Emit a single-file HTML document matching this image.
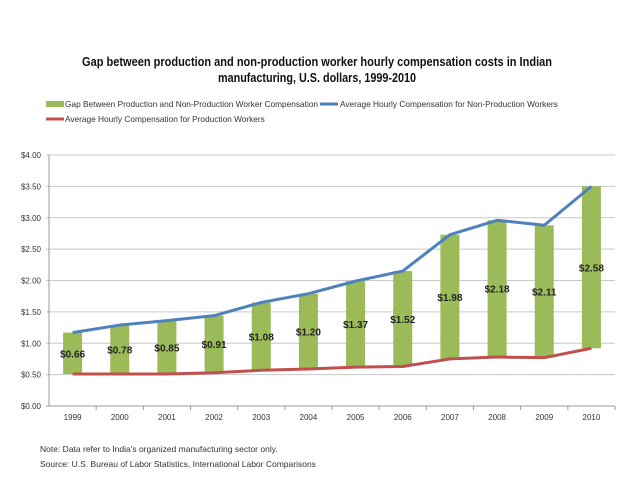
<!DOCTYPE html>
<html><head><meta charset="utf-8"><style>
body{margin:0;background:#fff;width:638px;height:479px;overflow:hidden;font-family:"Liberation Sans",sans-serif}
</style></head><body>
<svg width="638" height="479" id="svg" font-family="Liberation Sans, sans-serif">
<text x="317" y="66" text-anchor="middle" font-size="12.5" font-weight="bold" fill="#111" textLength="470" lengthAdjust="spacingAndGlyphs">Gap between production and non-production worker hourly compensation costs in Indian</text>
<text x="317" y="82" text-anchor="middle" font-size="12.5" font-weight="bold" fill="#111" textLength="198" lengthAdjust="spacingAndGlyphs">manufacturing, U.S. dollars, 1999-2010</text>
<g font-size="8.3" fill="#333">
<rect x="46" y="101" width="18" height="6" fill="#9bbb59"/>
<text x="65" y="107">Gap Between Production and Non-Production Worker Compensation</text>
<rect x="320" y="102.5" width="18" height="3" fill="#4f81bd"/>
<text x="340" y="107">Average Hourly Compensation for Non-Production Workers</text>
<rect x="46" y="117.5" width="18" height="3" fill="#c0504d"/>
<text x="65" y="122">Average Hourly Compensation for Production Workers</text>
</g>
<g id="plot"></g>
<text x="40" y="452" font-size="8.5" fill="#333">Note: Data refer to India's organized manufacturing sector only.</text>
<text x="40" y="467" font-size="8.5" fill="#333">Source: U.S. Bureau of Labor Statistics, International Labor Comparisons</text>
</svg>
<script>
const years=["1999","2000","2001","2002","2003","2004","2005","2006","2007","2008","2009","2010"];
const production=[0.51,0.51,0.51,0.53,0.57,0.59,0.62,0.63,0.75,0.78,0.77,0.92];
const nonProduction=[1.17,1.29,1.36,1.44,1.65,1.79,1.99,2.15,2.73,2.96,2.88,3.50];
const gapLabels=["$0.66","$0.78","$0.85","$0.91","$1.08","$1.20","$1.37","$1.52","$1.98","$2.18","$2.11","$2.58"];
const yTicks=[0,0.5,1,1.5,2,2.5,3,3.5,4];
const yTickLabels=["$0.00","$0.50","$1.00","$1.50","$2.00","$2.50","$3.00","$3.50","$4.00"];
const NS="http://www.w3.org/2000/svg";
const g=document.getElementById('plot');
const L=49,R=615,T=155,B=406;
const y=v=>B-(v/4)*(B-T);
const bw=(R-L)/years.length;
const x=i=>L+bw*(i+0.5);
function mk(t,a,p){const e=document.createElementNS(NS,t);for(const k in a)e.setAttribute(k,a[k]);(p||g).appendChild(e);return e;}
yTicks.forEach((v,i)=>{
 const ln=mk('line',{x1:L-3,x2:R,y1:y(v),y2:y(v),stroke:i===0?'#999':'#c8c8c8','stroke-width':1});
 
 
 const t=mk('text',{x:L-8,y:y(v)+3,'text-anchor':'end','font-size':8,fill:'#333'});
 t.textContent=yTickLabels[i];
 
 
});
const ax=mk('line',{x1:L,x2:L,y1:T,y2:B,stroke:'#999'});


years.forEach((yr,i)=>{
 mk('line',{x1:L+bw*(i+1),x2:L+bw*(i+1),y1:B,y2:B+4,stroke:'#999'});
 const t=mk('text',{x:x(i),y:B+14,'text-anchor':'middle','font-size':8,fill:'#333'});
 t.textContent=yr;
 
 
});
years.forEach((yr,i)=>{
 const r=mk('rect',{x:x(i)-9.5,y:y(nonProduction[i]),width:19,height:y(production[i])-y(nonProduction[i]),fill:'#9bbb59'});
 
 
});
function line(vals,color,name){
 const p=mk('polyline',{points:vals.map((v,i)=>x(i)+','+y(v)).join(' '),fill:'none',stroke:color,'stroke-width':3,'stroke-linejoin':'round'});
 
 
}
line(production,'#c0504d','production-line');
line(nonProduction,'#4f81bd','nonproduction-line');
years.forEach((yr,i)=>{
 const t=mk('text',{x:x(i),y:y((production[i]+nonProduction[i])/2)+4,'text-anchor':'middle','font-size':10,'font-weight':'bold',fill:'#222'});
 t.textContent=gapLabels[i];
 
 
});
</script>
</body></html>
